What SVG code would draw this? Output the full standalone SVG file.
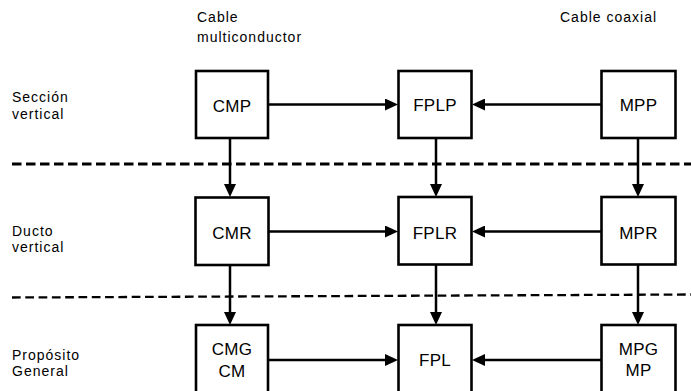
<svg xmlns="http://www.w3.org/2000/svg" width="691" height="391" viewBox="0 0 691 391">
<style>
text{font-family:"Liberation Sans",Arial,Helvetica,sans-serif;fill:#000}
.lbl{font-size:14px;letter-spacing:1px}
.box{fill:#fff;stroke:#000;stroke-width:2.6}
.bt{font-size:17px;text-anchor:middle;letter-spacing:0.3px}
.conn{stroke:#000;stroke-width:2.5;fill:none}
.dash1{stroke:#000;stroke-width:3;stroke-dasharray:9.5 4.5;fill:none}
.dash2{stroke:#000;stroke-width:2.3;stroke-dasharray:8.7 4.6;fill:none}
</style>
<defs>
<marker id="ah" markerUnits="userSpaceOnUse" markerWidth="13" markerHeight="12" refX="5" refY="6" orient="auto">
<path d="M0,0 L13,6 L0,12 z" fill="#000"/>
</marker>
</defs>
<rect width="691" height="391" fill="#fff"/>
<g id="labels">
<text class="lbl" x="197" y="22">Cable</text>
<text class="lbl" x="197" y="42">multiconductor</text>
<text class="lbl" x="560" y="22">Cable coaxial</text>
<text class="lbl" x="12" y="101.5">Sección</text>
<text class="lbl" x="12" y="118.5">vertical</text>
<text class="lbl" x="12" y="236">Ducto</text>
<text class="lbl" x="12" y="252">vertical</text>
<text class="lbl" x="12" y="360">Propósito</text>
<text class="lbl" x="12" y="376">General</text>
</g>
<g id="separators">
<line class="dash1" x1="12" y1="164" x2="691" y2="164"/>
<line class="dash2" x1="12" y1="297.5" x2="691" y2="294.5"/>
</g>
<g id="connectors">
<line class="conn" x1="268" y1="104.5" x2="390" y2="104.5" marker-end="url(#ah)"/>
<line class="conn" x1="601.5" y1="104.5" x2="480" y2="104.5" marker-end="url(#ah)"/>
<line class="conn" x1="268" y1="231.5" x2="390" y2="231.5" marker-end="url(#ah)"/>
<line class="conn" x1="601.5" y1="231.5" x2="480" y2="231.5" marker-end="url(#ah)"/>
<line class="conn" x1="268" y1="360" x2="390" y2="360" marker-end="url(#ah)"/>
<line class="conn" x1="601.5" y1="360" x2="480" y2="360" marker-end="url(#ah)"/>
<line class="conn" x1="230" y1="138" x2="230" y2="189" marker-end="url(#ah)"/>
<line class="conn" x1="436" y1="138" x2="436" y2="189" marker-end="url(#ah)"/>
<line class="conn" x1="638" y1="138" x2="638" y2="189" marker-end="url(#ah)"/>
<line class="conn" x1="230" y1="265" x2="230" y2="317" marker-end="url(#ah)"/>
<line class="conn" x1="436" y1="265" x2="436" y2="317" marker-end="url(#ah)"/>
<line class="conn" x1="638" y1="265" x2="638" y2="317" marker-end="url(#ah)"/>
</g>
<g id="CMP"><rect class="box" x="196" y="71" width="72" height="67"/><text class="bt" x="232" y="112">CMP</text></g>
<g id="FPLP"><rect class="box" x="398.5" y="71" width="73" height="67"/><text class="bt" x="435" y="111">FPLP</text></g>
<g id="MPP"><rect class="box" x="601.5" y="71" width="74" height="67"/><text class="bt" x="638.5" y="111">MPP</text></g>
<g id="CMR"><rect class="box" x="195.5" y="197.5" width="73" height="67.5"/><text class="bt" x="232" y="239">CMR</text></g>
<g id="FPLR"><rect class="box" x="398.5" y="197" width="73" height="67.5"/><text class="bt" x="435" y="238.5">FPLR</text></g>
<g id="MPR"><rect class="box" x="601.5" y="197" width="74" height="67.5"/><text class="bt" x="638.5" y="238.5">MPR</text></g>
<g id="CMG"><rect class="box" x="196" y="325" width="72" height="70"/><text class="bt" x="232" y="354.5">CMG</text><text class="bt" x="232" y="376.5">CM</text></g>
<g id="FPL"><rect class="box" x="398.5" y="325" width="73" height="70"/><text class="bt" x="435" y="366">FPL</text></g>
<g id="MPG"><rect class="box" x="601.5" y="325" width="74" height="70"/><text class="bt" x="638.5" y="354.5">MPG</text><text class="bt" x="638.5" y="375.5">MP</text></g>
</svg>
